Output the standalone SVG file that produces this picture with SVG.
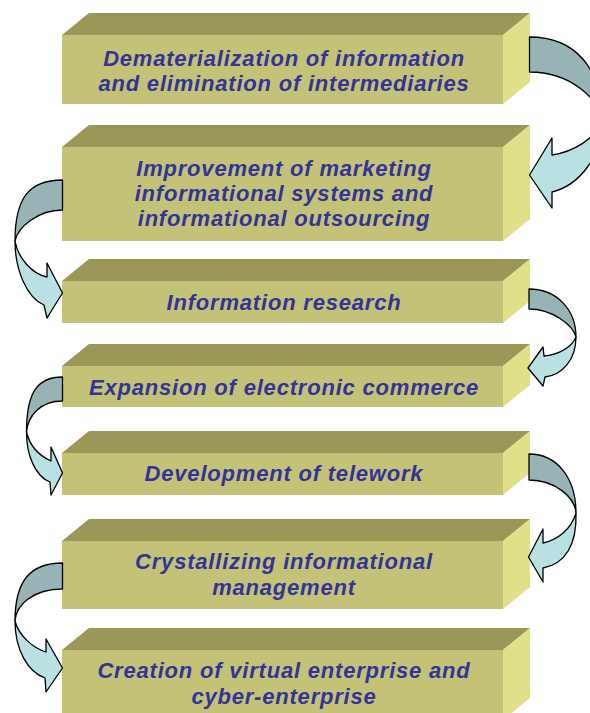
<svg xmlns="http://www.w3.org/2000/svg" width="590" height="713" viewBox="0 0 590 713">
<style>
.front{fill:#C3C276}
.top{fill:#9A9758}
.side{fill:#E1E08A}
.lbl{font-family:"Liberation Sans",Arial,sans-serif;font-size:22px;font-weight:bold;font-style:italic;fill:#333399;text-anchor:middle;letter-spacing:0.8px}
.back{fill:#97B3B6;stroke:#000;stroke-width:1.3;stroke-linejoin:round}
.fore{fill:#B9E0E3;stroke:#000;stroke-width:1.3;stroke-linejoin:round}
</style>
<rect width="590" height="713" fill="#fff"/>
<g id="node1">
<polygon class="top" points="62,35 503,35 530,13 89,13"/>
<rect class="front" x="62" y="35" width="441" height="69"/>
<polygon class="side" points="503,35 530,13 530,82 503,104"/>
<text class="lbl" x="284" y="66">Dematerialization of information</text>
<text class="lbl" x="284" y="91">and elimination of intermediaries</text>
</g>
<g id="node2">
<polygon class="top" points="62,147 503,147 530,125 89,125"/>
<rect class="front" x="62" y="147" width="441" height="94"/>
<polygon class="side" points="503,147 530,125 530,219 503,241"/>
<text class="lbl" x="284" y="176">Improvement of marketing</text>
<text class="lbl" x="284" y="201">informational systems and</text>
<text class="lbl" x="284" y="226">informational outsourcing</text>
</g>
<g id="node3">
<polygon class="top" points="62,281 503,281 530,259 89,259"/>
<rect class="front" x="62" y="281" width="441" height="42"/>
<polygon class="side" points="503,281 530,259 530,301 503,323"/>
<text class="lbl" x="284" y="310">Information research</text>
</g>
<g id="node4">
<polygon class="top" points="62,366 503,366 530,344 89,344"/>
<rect class="front" x="62" y="366" width="441" height="41"/>
<polygon class="side" points="503,366 530,344 530,385 503,407"/>
<text class="lbl" x="284" y="395">Expansion of electronic commerce</text>
</g>
<g id="node5">
<polygon class="top" points="62,453 503,453 530,431 89,431"/>
<rect class="front" x="62" y="453" width="441" height="42"/>
<polygon class="side" points="503,453 530,431 530,473 503,495"/>
<text class="lbl" x="284" y="481">Development of telework</text>
</g>
<g id="node6">
<polygon class="top" points="62,541 503,541 530,519 89,519"/>
<rect class="front" x="62" y="541" width="441" height="68"/>
<polygon class="side" points="503,541 530,519 530,587 503,609"/>
<text class="lbl" x="284" y="569">Crystallizing informational</text>
<text class="lbl" x="284" y="595">management</text>
</g>
<g id="node7">
<polygon class="top" points="62,650 503,650 530,628 89,628"/>
<rect class="front" x="62" y="650" width="441" height="70"/>
<polygon class="side" points="503,650 530,628 530,698 503,720"/>
<text class="lbl" x="284" y="678">Creation of virtual enterprise and</text>
<text class="lbl" x="284" y="704">cyber-enterprise</text>
</g>
<g id="connectors">
<g id="arrow1">
<path class="back" d="M529.5,37 C575,37 602,68 602,120 C598,98 570,72 529.5,72 Z"/>
<path class="fore" d="M602,120 C603,155 580,185 552,192 L552,208 L529.5,175 L552,138 L552,155 C572,152 595,140 602,120 Z"/>
</g>
<g id="arrow2">
<path class="back" d="M62.5,180 C29,180 15,198 15,241 C18,227 38,210 62.5,210 Z"/>
<path class="fore" d="M15,241 C15,270 27,298 44,305 L47,318 L62.5,293 L47,263 L47,277 C32,274 18,258 15,241 Z"/>
</g>
<g id="arrow3">
<path class="back" d="M529,289 C557,289 576,310 576,337 C573,325 552,309 529,309 Z"/>
<path class="fore" d="M576,337 C576,360 562,375 545,377 L543,386 L528,368 L543,347 L544,356 C556,355 571,349 576,337 Z"/>
</g>
<g id="arrow4">
<path class="back" d="M62.5,377 C37,377 26.5,393 26.5,432 C28,416 40,401 62.5,401 Z"/>
<path class="fore" d="M26.5,432 C26.5,455 35,476 50,482 L51,495 L62.5,473 L51,447 L51,461 C40,456 30,447 26.5,432 Z"/>
</g>
<g id="arrow5">
<path class="back" d="M529,454 C557,454 576,478 576,513 C575,498 556,480 529,480 Z"/>
<path class="fore" d="M576,513 C577,545 565,564 543,568 L543,582 L528.5,557 L543,529 L543,543 C557,540 571,530 576,513 Z"/>
</g>
<g id="arrow6">
<path class="back" d="M62.5,563 C30,563 15,581 15,621 C16,605 33,589 62.5,589 Z"/>
<path class="fore" d="M15,621 C15,650 28,672 45,678 L46,692 L62.5,668 L46,639 L46,652 C33,648 19,636 15,621 Z"/>
</g>
</g>
</svg>
